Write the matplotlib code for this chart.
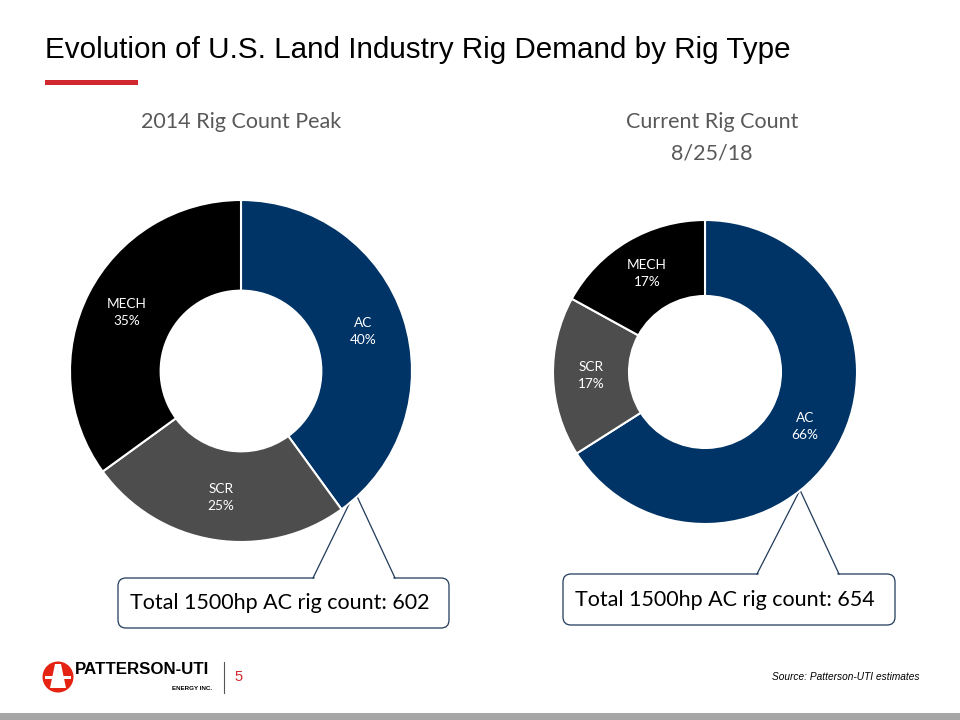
import matplotlib
matplotlib.use("Agg")
import matplotlib.pyplot as plt
import numpy as np
from matplotlib.patches import FancyBboxPatch, Polygon, Circle, Rectangle

# -----------------------------
# Data
rig_types = ["AC", "SCR", "MECH"]
peak_2014 = [40, 25, 35]
current_2018 = [66, 17, 17]
colors = ["#003366", "#4D4D4D", "#000000"]
peak_title = "2014 Rig Count Peak"
current_title = "Current Rig Count\n8/25/18"
peak_callout = "Total 1500hp AC rig count: 602"
current_callout = "Total 1500hp AC rig count: 654"
# -----------------------------

W, H = 960, 720
fig = plt.figure(figsize=(9.6, 7.2), dpi=100)
fig.patch.set_facecolor("white")

# background axes in pixel coordinates (y downwards)
bg = fig.add_axes([0, 0, 1, 1], zorder=0)
bg.set_xlim(0, W)
bg.set_ylim(H, 0)
bg.axis("off")

label_font = ["Lato", "DejaVu Sans"]
title_font = ["Liberation Sans Narrow", "Liberation Sans", "DejaVu Sans"]

# page title + red underline
bg.text(45, 50, "Evolution of U.S. Land Industry Rig Demand by Rig Type",
        fontsize=21.3, family=title_font, va="center", ha="left", color="black")
bg.add_patch(Rectangle((45, 80), 93, 5, color="#D0282E", lw=0))


def donut(cx, cy, r, values, title, hole):
    ax = fig.add_axes([(cx - r) / W, (H - cy - r) / H, 2 * r / W, 2 * r / H], zorder=2)
    ax.set_facecolor("none")
    wedges, _ = ax.pie(values, colors=colors, startangle=90, counterclock=False,
                       radius=1, wedgeprops=dict(width=1 - hole, edgecolor="white", linewidth=1.5))
    ax.set_xlim(-1, 1)
    ax.set_ylim(-1, 1)
    ax.set_aspect("equal")
    ax.axis("off")
    for w, name, v in zip(wedges, rig_types, values):
        mid = np.deg2rad((w.theta1 + w.theta2) / 2)
        ax.text(0.75 * np.cos(mid), 0.75 * np.sin(mid), f"{name}\n{v}%", color="white",
                fontsize=9.8, family=label_font, ha="center", va="center", linespacing=1.5)
    for i, line in enumerate(title.split("\n")):
        bg.text(cx + (7 if "\n" in title else 0), 122 + 31 * i, line, fontsize=15.5,
                family=label_font, color="#595959", ha="center", va="center")


donut(241, 371, 171, peak_2014, peak_title, 0.47)
donut(705, 372, 152, current_2018, current_title, 0.5)


def callout(x0, y0, x1, y1, base_l, base_r, tip, text):
    edge = "#1F3A5A"
    bg.add_patch(FancyBboxPatch((x0, y0), x1 - x0, y1 - y0,
                                boxstyle="round,pad=0,rounding_size=8",
                                fc="white", ec=edge, lw=0.9, zorder=1))
    bg.add_patch(Polygon([(base_l + 1, y0 + 1.5), tip, (base_r - 1, y0 + 1.5)],
                         closed=True, fc="white", ec="none", zorder=2))
    bg.plot([base_l, tip[0], base_r], [y0, tip[1], y0], color=edge, lw=0.9, zorder=3)
    bg.text(x0 + 12, (y0 + y1) / 2, text, fontsize=15.5, family=label_font,
            ha="left", va="center", color="black", zorder=4)


callout(118, 578, 449, 628, 313, 395, (355, 492), peak_callout)
callout(563, 574, 895, 625, 757, 839, (800, 490), current_callout)

# footer logo
bg.add_patch(Circle((58, 677), 15.5, color="#E42313", lw=0))
bg.add_patch(Polygon([(55, 664), (61, 664), (66, 688), (50, 688)], closed=True, fc="white", ec="none"))
bg.add_patch(Rectangle((45, 676), 26, 2.5, color="white", lw=0))
bg.text(75, 670, "PATTERSON-UTI", fontsize=12.2, fontweight="bold", family=title_font,
        ha="left", va="center", color="black")
bg.text(212, 689, "ENERGY INC.", fontsize=4.5, fontweight="bold", family=title_font,
        ha="right", va="center", color="black")
bg.plot([224, 224], [662, 693], color="#555555", lw=0.8)
bg.text(234, 677, "5", fontsize=10.5, family=title_font, ha="left", va="center", color="#D0282E")
bg.text(919, 677, "Source: Patterson-UTI estimates", fontsize=7.3, style="italic",
        family=title_font, ha="right", va="center", color="black")

# bottom grey bar
bg.add_patch(Rectangle((0, 713), W, 7, color="#A6A6A6", lw=0))

fig.savefig("out.png", dpi=100, facecolor="white")
